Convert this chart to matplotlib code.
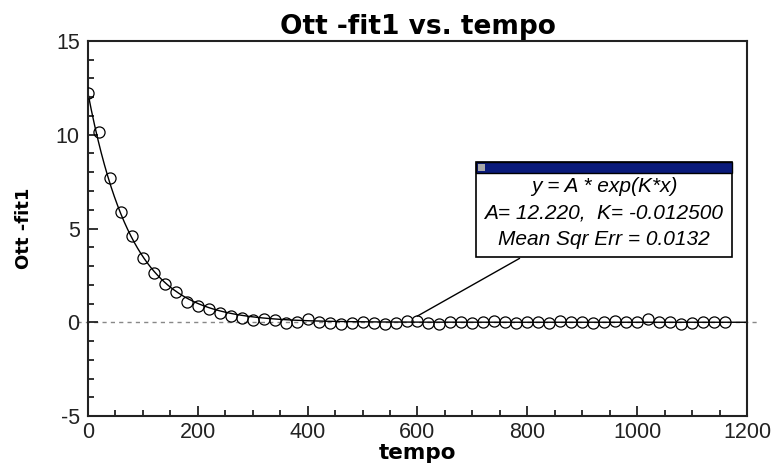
import matplotlib

matplotlib.use("Agg")
import matplotlib.pyplot as plt
from matplotlib.patches import Rectangle
from matplotlib.ticker import MultipleLocator
import numpy as np

plt.rcParams["font.family"] = ["Liberation Sans", "DejaVu Sans"]
plt.rcParams["axes.unicode_minus"] = False

# measured points (tempo, Ott -fit1)
tempo = list(range(0, 1180, 20))
ott = [
    12.2, 10.15, 7.7, 5.9, 4.6, 3.45, 2.65, 2.05, 1.6, 1.1,
    0.85, 0.7, 0.5, 0.35, 0.25, 0.1, 0.2, 0.1, -0.05, 0.0,
    0.15, 0.0, -0.05, -0.1, -0.05, 0.0, -0.05, -0.1, -0.05, 0.05,
    0.05, -0.05, -0.1, 0.0, 0.0, -0.05, 0.0, 0.05, 0.0, -0.05,
    0.0, 0.0, -0.05, 0.05, 0.0, 0.0, -0.05, 0.0, 0.05, 0.0,
    0.0, 0.15, 0.0, 0.0, -0.1, -0.05, 0.0, 0.0, 0.0,
]

# fit parameters shown in the chart
fit_A = 12.220
fit_K = -0.012500
fit_mse = 0.0132

x_ticks = [0, 200, 400, 600, 800, 1000, 1200]
y_ticks = [-5, 0, 5, 10, 15]

fig = plt.figure(figsize=(7.75, 4.68), dpi=100)
ax = fig.add_axes([0.1135, 0.1111, 0.8504, 0.8013])

# zero reference line, runs a little past both axes
ax.plot([-20, 1218], [0, 0], ls=(0, (3, 3)), color="#888888", lw=1, clip_on=False, zorder=1)

xf = np.linspace(0, 1200, 400)
ax.plot(xf, fit_A * np.exp(fit_K * xf), color="black", lw=1.0, zorder=2)
ax.plot(tempo, ott, ls="none", marker="o", ms=8, mfc="none", mec="black", mew=0.9, zorder=3)

ax.set_xlim(0, 1200)
ax.set_ylim(-5, 15)
ax.set_xticks(x_ticks)
ax.set_yticks(y_ticks)
ax.xaxis.set_minor_locator(MultipleLocator(50))
ax.yaxis.set_minor_locator(MultipleLocator(1))
ax.tick_params(which="both", direction="in", top=False, right=False, labelsize=15.5,
               width=1.3, color="#222222", labelcolor="#222222")
ax.tick_params(which="major", length=7)
ax.tick_params(which="minor", length=4)
ax.tick_params(axis="y", which="major", pad=6)
ax.tick_params(axis="x", which="major", pad=4)
for s in ax.spines.values():
    s.set_linewidth(1.5)
    s.set_color("#222222")

ax.set_title("Ott -fit1 vs. tempo", fontsize=19, fontweight="bold", pad=5, family="DejaVu Sans")
ax.set_xlabel("tempo", fontsize=15.5, fontweight="bold", labelpad=0, family="DejaVu Sans")
ax.set_ylabel("Ott -fit1", fontsize=13, fontweight="bold", labelpad=16, family="DejaVu Sans")

# fit result box
bx0, by0, bw, bh = 476 / 775, 1 - 257 / 468, 256 / 775, 95 / 468
ax.annotate("", xy=(595, 0.25), xycoords="data",
            xytext=(522 / 775, by0), textcoords="figure fraction",
            arrowprops=dict(arrowstyle="-", color="black", lw=1), zorder=4)
fig.patches.append(Rectangle((bx0, by0), bw, bh, transform=fig.transFigure,
                             facecolor="white", edgecolor="black", lw=1.2, zorder=5))
bar_h = 11 / 468
fig.patches.append(Rectangle((bx0, by0 + bh - bar_h), bw, bar_h, transform=fig.transFigure,
                             facecolor="#0a1a7a", edgecolor="black", lw=1, zorder=6))
fig.patches.append(Rectangle((bx0 + 2 / 775, by0 + bh - bar_h + 2 / 468), 7 / 775, 7 / 468,
                             transform=fig.transFigure, facecolor="#a8a8a8", edgecolor="none", zorder=7))
lines = [
    "y = A * exp(K*x)",
    f"A= {fit_A:.3f},  K= -{abs(fit_K):.6f}",
    f"Mean Sqr Err = {fit_mse:.4f}",
]
cx = bx0 + bw / 2
for i, t in enumerate(lines):
    fig.text(cx, 1 - (187 + i * 26.5) / 468, t, ha="center", va="center",
             fontsize=15, style="italic", zorder=8)

fig.savefig("out.png", dpi=100)
